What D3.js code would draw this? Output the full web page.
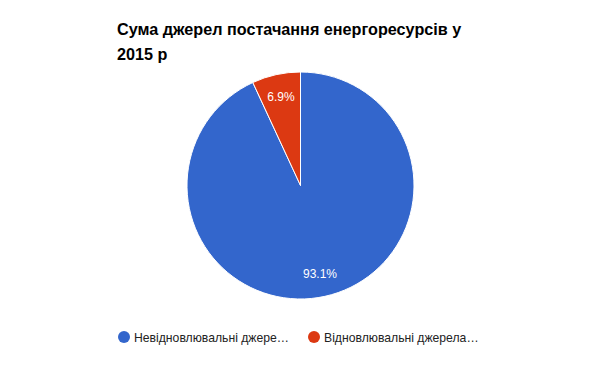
<!DOCTYPE html>
<html><head><meta charset="utf-8">
<script src="https://cdn.jsdelivr.net/npm/d3@7"></script>
<style>body{margin:0;background:#fff}svg{display:block}</style>
</head><body><svg id="c" width="600" height="371"></svg>
<script>
const titleLines = ["Сума джерел постачання енергоресурсів у", "2015 р"];
const categories = ["Невідновлювальні джере…", "Відновлювальні джерела…"];
const values = [93.1, 6.9];
const colors = ["#3366cc", "#dc3912"];

const svg = d3.select("#c");
const W = 600, H = 371;
svg.append("rect").attr("width", W).attr("height", H).attr("fill", "#fff");

const t = svg.append("text").attr("x", 117).attr("y", 35)
  .attr("font-family", "Arial, 'Liberation Sans', sans-serif")
  .attr("font-size", 16.2).attr("font-weight", "bold").attr("fill", "#000");
titleLines.forEach((l, i) => t.append("tspan").attr("x", 117).attr("y", 35 + i * 24.5).text(l));

const cx = 300.5, cy = 185.5, r = 113.5;
const data = categories.map((c, i) => ({ c, v: values[i], col: colors[i] }));
const pie = d3.pie().value(d => d.v).sort(null);
const arc = d3.arc().innerRadius(0).outerRadius(r);
const labelArc = d3.arc().innerRadius(r * 0.8).outerRadius(r * 0.8);
const g = svg.append("g").attr("transform", `translate(${cx},${cy})`);
const arcs = pie(data);
g.selectAll("path").data(arcs).join("path")
  .attr("d", arc).attr("fill", d => d.data.col)
  .attr("stroke", "#fff").attr("stroke-width", 1);
g.selectAll("text").data(arcs).join("text")
  .attr("transform", d => `translate(${labelArc.centroid(d)})`)
  .attr("text-anchor", "middle").attr("dy", "0.35em")
  .attr("font-family", "Arial, 'Liberation Sans', sans-serif")
  .attr("font-size", 12).attr("fill", "#fff")
  .text(d => d3.format(".1f")(d.data.v) + "%");

const legendX = [124, 314];
const lg = svg.append("g");
data.forEach((d, i) => {
  lg.append("circle").attr("cx", legendX[i]).attr("cy", 337).attr("r", 6).attr("fill", d.col);
  lg.append("text").attr("x", legendX[i] + 10).attr("y", 341.5)
    .attr("font-family", "Arial, 'Liberation Sans', sans-serif")
    .attr("font-size", 12.2).attr("fill", "#222").text(d.c);
});
</script></body></html>
